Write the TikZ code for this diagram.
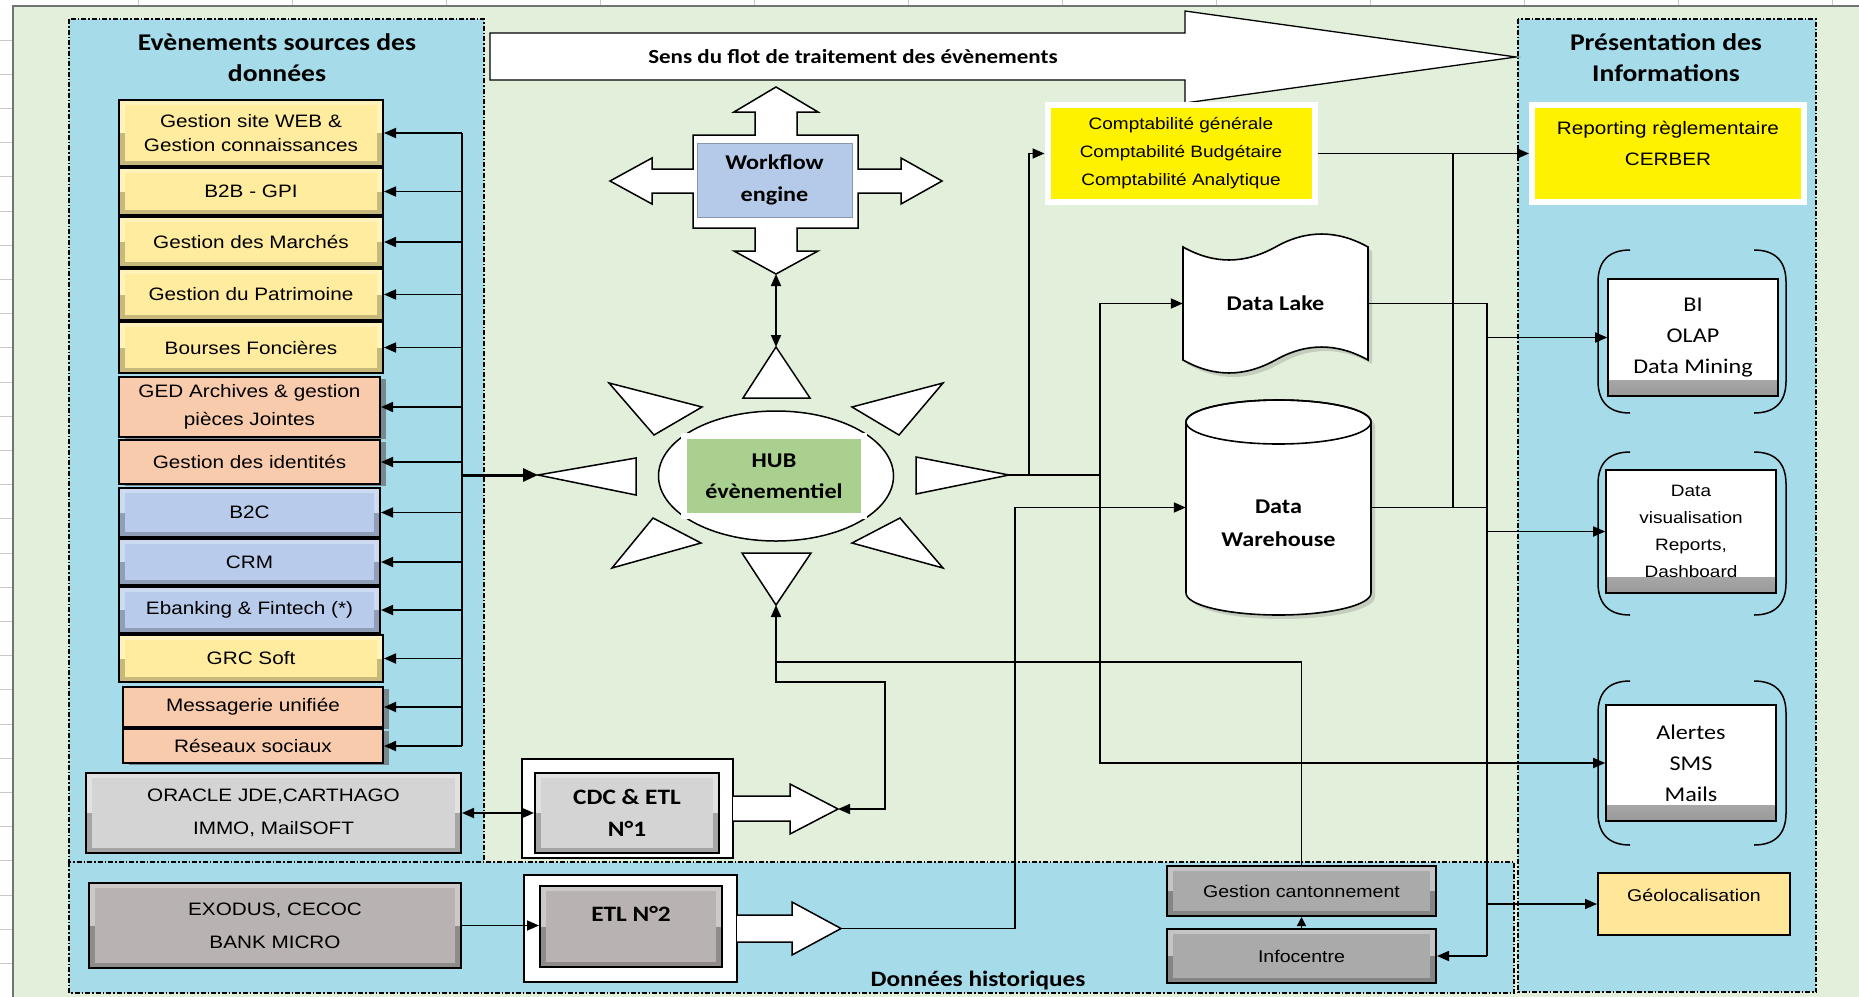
\documentclass[tikz,border=0pt]{standalone}
\usepackage{fontspec}
\setmainfont{Liberation Sans}[FakeStretch=1.15]
\newfontfamily\calib{Carlito}[FakeStretch=1.15]
\usetikzlibrary{positioning,arrows.meta,calc,shapes.geometric,shadows}

\definecolor{sheetgreen}{RGB}{226,239,218}
\definecolor{water}{RGB}{166,219,233}
\definecolor{gridgrey}{RGB}{200,200,200}
\definecolor{boxyellow}{RGB}{255,236,158}
\definecolor{salmon}{RGB}{248,203,173}
\definecolor{boxblue}{RGB}{184,203,234}
\definecolor{lightgrey}{RGB}{212,212,212}
\definecolor{darkgrey}{RGB}{184,178,178}
\definecolor{midgrey}{RGB}{170,170,170}
\definecolor{hubgreen}{RGB}{169,208,142}
\definecolor{wfblue}{RGB}{180,202,232}
\definecolor{geogold}{RGB}{255,230,153}

\tikzset{
  arr/.style={-{Triangle[length=12pt,width=10pt]}, line width=1.7pt},
  biarr/.style={{Triangle[length=12pt,width=10pt]}-{Triangle[length=12pt,width=10pt]}, line width=1.7pt},
  lane/.style={draw=black, line width=1.2pt, dash pattern=on 5pt off 2pt on 1.5pt off 2pt, fill=water},
  outline/.style={draw=black, line width=1.5pt, fill=white},
  bevel/.style={draw=black, line width=2pt, fill=#1!78!black, inner sep=0pt,
    path picture={\fill[#1!70!white] (path picture bounding box.north west) rectangle (path picture bounding box.east);
      \fill[#1] ([shift={(6pt,-5pt)}]path picture bounding box.north west) rectangle ([shift={(-6pt,5pt)}]path picture bounding box.south east);}},
  flat/.style={draw=black, line width=2pt, fill=#1, inner sep=0pt, drop shadow={shadow xshift=6pt, shadow yshift=-2pt, fill=black!60, opacity=.7}},
  glow/.style={draw=white, line width=6pt, fill=#1, inner sep=0pt},
  screen/.style={draw=black, line width=1.6pt, fill=white, inner sep=0pt,
    path picture={\shade[top color=white, bottom color=black!40] ([yshift=16pt]path picture bounding box.south west) rectangle (path picture bounding box.south east);}},
  brk/.style={draw=black, line width=1.5pt},
  srcbox/.style={font=\fontsize{18}{24}\selectfont, align=center},
  ttl/.style={font=\calib\bfseries\fontsize{24}{31}\selectfont, align=center},
  bold/.style={font=\calib\bfseries\fontsize{21}{32}\selectfont, align=center},
  cal/.style={font=\calib\fontsize{21}{31}\selectfont, align=center},
}

\begin{document}
\begin{tikzpicture}[x=1pt,y=-1pt]
\useasboundingbox (0,0) rectangle (1859,996);
% spreadsheet behind
\fill[white] (0,0) rectangle (1859,996);
\foreach \gx in {138,292,...,1832} \draw[gridgrey, line width=1pt] (\gx,0) -- (\gx,6);
\foreach \gy in {40,74.2,...,990} \draw[gridgrey, line width=1pt] (0,\gy) -- (13,\gy);
\draw[fill=sheetgreen, draw=black!55, line width=1.5pt] (13,6) rectangle (1864,1002);

% lanes
\draw[lane] (69,19) rectangle (484,862);
\draw[lane] (69,862) rectangle (1514,993);
\draw[lane] (1518,19) rectangle (1816,992);
\node[ttl] (srcttl) at (277,58) {Evènements sources des\\données};
\node[ttl] (infottl) at (1666,58) {Présentation des\\Informations};
\node[font=\calib\bfseries\fontsize{22}{26}\selectfont] (histo) at (978,980) {Données historiques};

% direction of flow
\draw[outline, line width=1.3pt] (490,33) -- (1185,33) -- (1185,11) -- (1516,57) -- (1185,103) -- (1185,80) -- (490,80) -- cycle;
\node[font=\calib\bfseries\fontsize{20}{24}\selectfont] (flow) at (853,57) {Sens du flot de traitement des évènements};

% workflow engine with its four arrows
\draw[outline] (776,87) -- (818,112) -- (797,112) -- (797,135) -- (858,135) -- (858,169) -- (901,169) -- (901,158)
  -- (942,181) -- (901,204) -- (901,193) -- (858,193) -- (858,228) -- (797,228) -- (797,251) -- (818,251)
  -- (776,274) -- (734,251) -- (755,251) -- (755,228) -- (693,228) -- (693,193) -- (652,193) -- (652,204)
  -- (610,181) -- (652,158) -- (652,169) -- (693,169) -- (693,135) -- (755,135) -- (755,112) -- (734,112) -- cycle;
\node[bold, draw=wfblue!75!black, line width=1pt, fill=wfblue, minimum width=155, minimum height=74] (wf) at (774.5,180) {Workflow\\engine};
\coordinate (wfS) at (776,274);

% hub and its rays
\coordinate (rayN) at (776,347); \coordinate (rayS) at (776,605);
\coordinate (rayW) at (538,475); \coordinate (rayE) at (1009,475);
\draw[outline] (rayN) -- (810,398) -- (743,398) -- cycle;
\draw[outline] (943,383) -- (899,435) -- (852,407) -- cycle;
\draw[outline] (rayE) -- (916,494) -- (916,457) -- cycle;
\draw[outline] (943,568) -- (852,543) -- (900,518) -- cycle;
\draw[outline] (rayS) -- (742,553) -- (811,553) -- cycle;
\draw[outline] (612,568) -- (653,518) -- (701,543) -- cycle;
\draw[outline] (rayW) -- (636,458) -- (636,495) -- cycle;
\draw[outline] (609,383) -- (702,407) -- (654,435) -- cycle;
\node[ellipse, draw=black, line width=1.5pt, fill=white, minimum width=235, minimum height=130, inner sep=0pt] (hubring) at (776,476) {};
\node[bold, fill=hubgreen, draw=white, line width=6pt, minimum width=180, minimum height=80, font=\calib\bfseries\fontsize{21}{31}\selectfont] (hub) at (774,476) {HUB\\évènementiel};

% source systems
\node[bevel=boxyellow, srcbox, minimum width=264, minimum height=66] (web) at (251,133) {Gestion site WEB \&\\Gestion connaissances};
\node[bevel=boxyellow, srcbox, minimum width=264, minimum height=47] (b2b) at (251,191.5) {B2B - GPI};
\node[bevel=boxyellow, srcbox, minimum width=264, minimum height=50] (marches) at (251,242) {Gestion des Marchés};
\node[bevel=boxyellow, srcbox, minimum width=264, minimum height=51] (patri) at (251,294.5) {Gestion du Patrimoine};
\node[bevel=boxyellow, srcbox, minimum width=264, minimum height=51] (bourses) at (251,347.5) {Bourses Foncières};
\node[flat=salmon, srcbox, minimum width=261, minimum height=60, font=\fontsize{18}{28}\selectfont] (ged) at (249.5,407) {GED Archives \& gestion\\pièces Jointes};
\node[flat=salmon, srcbox, minimum width=261, minimum height=44] (ident) at (249.5,462) {Gestion des identités};
\node[bevel=boxblue, srcbox, minimum width=261, minimum height=49] (b2c) at (249.5,512.5) {B2C};
\node[bevel=boxblue, srcbox, minimum width=261, minimum height=46] (crm) at (249.5,562) {CRM};
\node[bevel=boxblue, srcbox, minimum width=261, minimum height=46] (ebank) at (249.5,610) {Ebanking \& Fintech (*)};
\node[bevel=boxyellow, srcbox, minimum width=264, minimum height=47] (grc) at (251,658.5) {GRC Soft};
\node[flat=salmon, srcbox, minimum width=260, minimum height=40] (mess) at (253,707) {Messagerie unifiée};
\node[flat=salmon, srcbox, minimum width=260, minimum height=34] (reseaux) at (253,746) {Réseaux sociaux};
\node[bevel=lightgrey, srcbox, minimum width=375, minimum height=80, font=\fontsize{18}{33}\selectfont] (oracle) at (273.5,813) {ORACLE JDE,CARTHAGO\\IMMO, MailSOFT};
\node[bevel=darkgrey, srcbox, minimum width=372, minimum height=85, font=\fontsize{18}{33}\selectfont] (exodus) at (275,925.5) {EXODUS, CECOC\\BANK MICRO};

% left bus
\coordinate (bus) at (462,475);
\draw[line width=1.7pt] (web.east -| bus) -- (reseaux.east -| bus);
\foreach \b in {web,b2b,marches,patri,bourses,ged,ident,b2c,crm,ebank,grc,mess,reseaux}
  \draw[arr] (\b.east -| bus) -- (\b.east);
\draw[-{Triangle[length=15pt,width=13pt]}, line width=3pt] (bus) -- (rayW);
\draw[biarr] (wfS) -- (rayN);

% CDC and ETL
\node[draw=black, line width=1.5pt, fill=white, minimum width=211, minimum height=99] (cdcframe) at (627.5,808.5) {};
\node[bevel=lightgrey, minimum width=184, minimum height=80, font=\calib\bfseries\fontsize{22}{32}\selectfont, align=center] (cdc) at (627,813) {CDC \& ETL\\N°1};
\draw[outline] (733,796) -- (790,796) -- (790,784) -- (838,809) -- (790,834) -- (790,821) -- (733,821);
\coordinate (cdctip) at (838,809);
\node[draw=black, line width=1.5pt, fill=white, minimum width=213, minimum height=107] (etlframe) at (630.5,928.5) {};
\node[bevel=darkgrey, minimum width=182, minimum height=81] (etl) at (631,926.5) {};
\node[font=\calib\bfseries\fontsize{22}{26}\selectfont] (etltxt) at ([yshift=13pt]etl.center) {ETL N°2};
\draw[outline] (737,915) -- (792,915) -- (792,902) -- (841,928.5) -- (792,955) -- (792,942) -- (737,942);
\coordinate (etltip) at (841,928.5);
\draw[biarr] (oracle.east) -- (cdc.west);
\draw[arr] (exodus.east) -- (exodus.east -| etl.west);

% historical stores
\node[bevel=midgrey, srcbox, font=\fontsize{17}{22}\selectfont, minimum width=269, minimum height=50] (gcan) at (1301.5,891) {Gestion cantonnement};
\node[bevel=midgrey, srcbox, font=\fontsize{17}{22}\selectfont, minimum width=269, minimum height=54] (infc) at (1301.5,956) {Infocentre};
\draw[-{Triangle[length=9pt,width=9pt]}, line width=1.5pt] (infc.north) -- (gcan.south);

% accounting, data lake, data warehouse
\node[glow=yellow, font=\fontsize{16.5}{28}\selectfont, align=center, minimum width=267, minimum height=97] (compta) at (1181,153.5) {Comptabilité générale\\Comptabilité Budgétaire\\Comptabilité Analytique};
\draw[outline, line width=1.6pt, drop shadow={shadow xshift=4pt, shadow yshift=-4pt, opacity=.3}]
  (1183,247) .. controls (1214,264.3) and (1244,264.3) .. (1275.5,247) .. controls (1306,229.7) and (1337,229.7) .. (1368,247)
  -- (1368,360) .. controls (1337,342.7) and (1306,342.7) .. (1275.5,360) .. controls (1244,377.3) and (1214,377.3) .. (1183,360) -- cycle;
\node[minimum width=185, minimum height=113, font=\calib\bfseries\fontsize{21}{26}\selectfont] (lake) at (1275.5,303.5) {Data Lake};
\draw[outline, line width=1.6pt, drop shadow={shadow xshift=4pt, shadow yshift=-4pt, opacity=.3}]
  (1186,422) -- (1186,593) arc[start angle=180, end angle=0, x radius=92.5, y radius=22]
  -- (1371,422) arc[start angle=0, end angle=-180, x radius=92.5, y radius=22] -- cycle;
\draw[line width=1.6pt] (1278.5,422) ellipse [x radius=92.5, y radius=22];
\node[minimum width=185, minimum height=215] (dw) at (1278.5,507.5) {};
\node[bold, font=\calib\bfseries\fontsize{21}{33}\selectfont] (dwtxt) at ([yshift=-16pt]dw.center) {Data\\Warehouse};

% presentation side
\node[glow=yellow, minimum width=272, minimum height=97] (report) at (1668,153.5) {};
\node[font=\fontsize{18}{31}\selectfont, align=center] (reporttxt) at ([yshift=10pt]report.center) {Reporting règlementaire\\CERBER};
\node[screen, cal, minimum width=170, minimum height=117] (bi) at (1693,337.5) {BI\\OLAP\\Data Mining};
\node[screen, font=\fontsize{16.5}{27}\selectfont, align=center, minimum width=170, minimum height=123] (dvis) at (1691,531.5) {Data\\visualisation\\Reports,\\Dashboard};
\node[screen, cal, minimum width=170, minimum height=116] (alert) at (1691,763) {Alertes\\SMS\\Mails};
\foreach \t/\b in {250/413,452/615,681/845}{
  \draw[brk] (1630,\t) .. controls (1608,\t) and (1598,\t+12) .. (1598,\t+32) -- (1598,\b-32) .. controls (1598,\b-12) and (1608,\b) .. (1630,\b);
  \draw[brk] (1754,\t) .. controls (1776,\t) and (1786,\t+12) .. (1786,\t+32) -- (1786,\b-32) .. controls (1786,\b-12) and (1776,\b) .. (1754,\b);
}
\node[draw=black, line width=2pt, fill=geogold, minimum width=192, minimum height=62] (geo) at (1694,904) {};
\node[font=\fontsize{17}{22}\selectfont] (geotxt) at ([yshift=9pt]geo.center) {Géolocalisation};

% connectors
\coordinate (splitA) at (1029,475);
\coordinate (splitB) at (1100,475);
\draw[line width=1.7pt] (rayE) -- (splitB);
\draw[arr] (splitA) |- (compta.west);
\draw[arr] (splitB) |- (lake.west);
\draw[arr] (splitB) |- (alert.west);
\draw[arr] (etltip) -- ++(174,0) |- (dw.west);
\coordinate (cdcbend) at (885,682);
\coordinate (hubfeed) at (776,662);
\draw[biarr] (cdctip) -| (cdcbend) -| (rayS);
\draw[line width=1.7pt] (gcan.north) |- (hubfeed);
\draw[arr] (compta.east) -- (report.west);
\coordinate (cbus) at (1453,153.5);
\draw[line width=1.7pt] (cbus) -- (cbus |- dw.east);
\coordinate (rbusTop) at (1487,303.5);
\coordinate (rbusBot) at (1487,956);
\draw[line width=1.7pt] (lake.east) -- (rbusTop) -- (rbusBot);
\draw[line width=1.7pt] (dw.east) -- (dw.east -| rbusTop);
\draw[arr] (rbusBot) -- (infc.east);
\foreach \t in {bi,dvis,geo}
  \draw[arr] (\t.west -| rbusTop) -- (\t.west);
\end{tikzpicture}
\end{document}
